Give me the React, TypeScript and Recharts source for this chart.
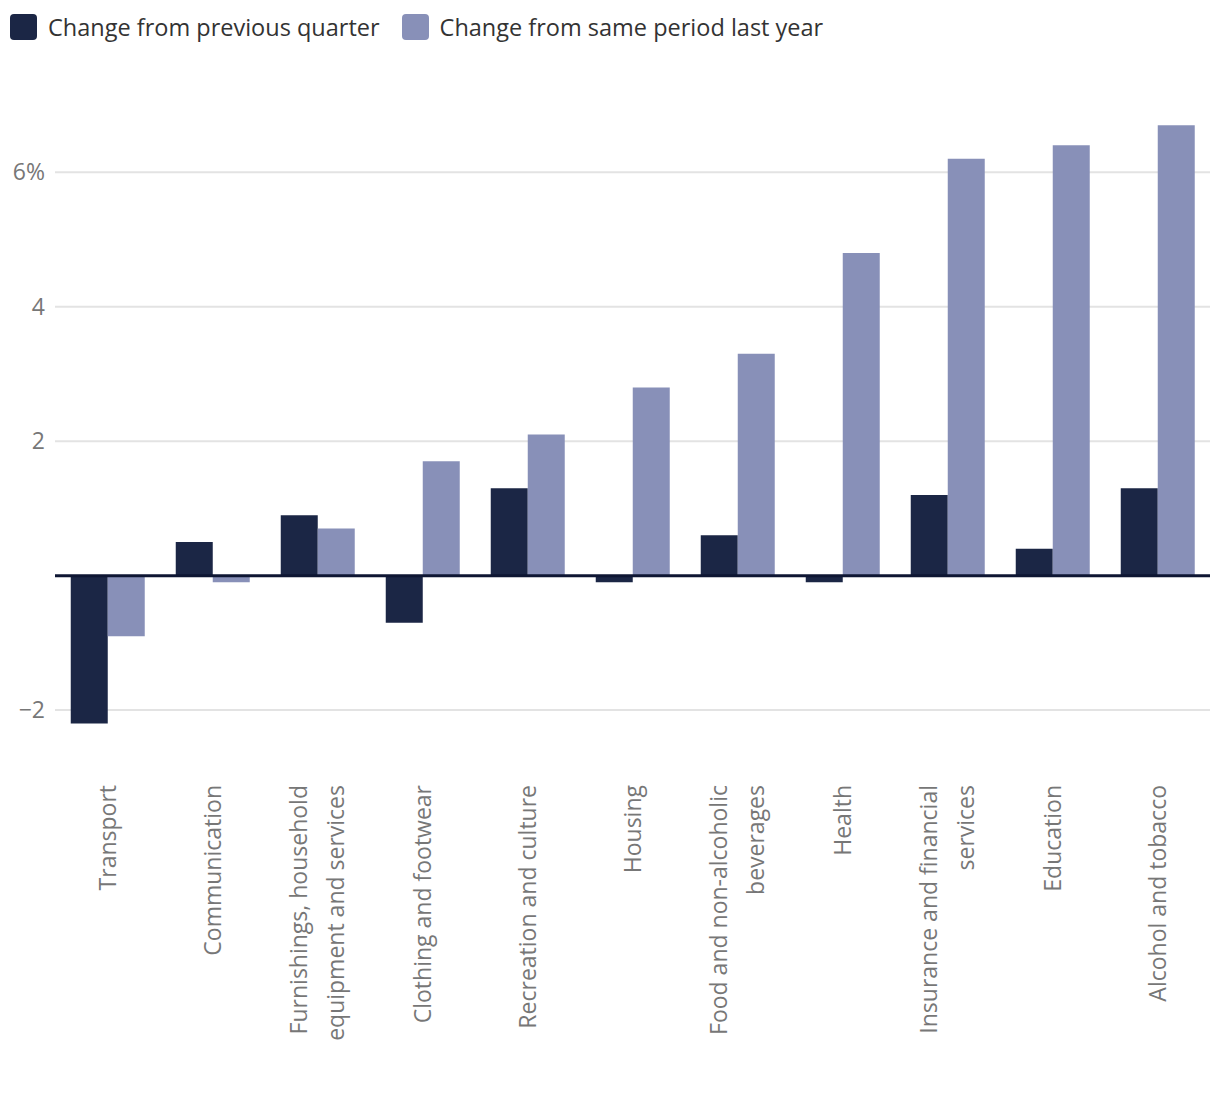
import { BarChart, Bar, XAxis, YAxis, CartesianGrid, ReferenceLine, Legend } from "recharts"

const categories = [
  "Transport",
  "Communication",
  "Furnishings, household equipment and services",
  "Clothing and footwear",
  "Recreation and culture",
  "Housing",
  "Food and non-alcoholic beverages",
  "Health",
  "Insurance and financial services",
  "Education",
  "Alcohol and tobacco",
]

const prevQuarter = [-2.2, 0.5, 0.9, -0.7, 1.3, -0.1, 0.6, -0.1, 1.2, 0.4, 1.3]
const sameLastYear = [-0.9, -0.1, 0.7, 1.7, 2.1, 2.8, 3.3, 4.8, 6.2, 6.4, 6.7]

const yTicks = [-2, 2, 4, 6]

const DARK = "#1b2645"
const LIGHT = "#8890b8"
const FONT = "'Open Sans', sans-serif"

const data = categories.map((name, i) => ({
  name,
  prev: prevQuarter[i],
  year: sameLastYear[i],
}))

// split long labels into lines of max ~23 chars
function wrap(label: string, max = 23) {
  const words = label.split(" ")
  const lines: string[] = []
  let cur = ""
  for (const w of words) {
    const next = cur ? cur + " " + w : w
    if (next.length > max && cur) {
      lines.push(cur)
      cur = w
    } else {
      cur = next
    }
  }
  if (cur) lines.push(cur)
  return lines
}

const CategoryTick = ({ x, y, payload }: any) => {
  const lines = wrap(payload.value)
  const spacing = 37
  const start = -((lines.length - 1) * spacing) / 2 + 8
  return (
    <g transform={`translate(${x},${y + 46})`}>
      <text transform="rotate(-90)" textAnchor="end" fill="#777" fontSize={23} fontFamily={FONT}>
        {lines.map((l, i) => (
          <tspan key={i} x={0} y={start + i * spacing}>
            {l}
          </tspan>
        ))}
      </text>
    </g>
  )
}

const formatY = (v: number) => {
  const s = v < 0 ? "\u2212" + Math.abs(v) : String(v)
  return v === 6 ? s + "%" : s
}

const LegendContent = () => {
  const items = [
    { label: "Change from previous quarter", color: DARK },
    { label: "Change from same period last year", color: LIGHT },
  ]
  return (
    <div style={{ display: "flex", alignItems: "center", height: 54, paddingLeft: 10, fontFamily: FONT }}>
      {items.map((it) => (
        <div key={it.label} style={{ display: "flex", alignItems: "center", marginRight: 22 }}>
          <span
            style={{
              display: "inline-block",
              width: 27,
              height: 26,
              borderRadius: 4,
              background: it.color,
              marginRight: 11,
            }}
          />
          <span style={{ fontSize: 23.5, color: "#333" }}>{it.label}</span>
        </div>
      ))}
    </div>
  )
}

export default function App() {
  return (
    <div style={{ width: 1220, height: 1102, background: "#fff" }}>
      <style>{`body{margin:0}`}</style>
      <BarChart
        width={1220}
        height={1102}
        data={data}
        margin={{ top: 51, right: 10, left: 0, bottom: 65 }}
        barCategoryGap="15%"
        barGap={0}
      >
        <Legend
          verticalAlign="top"
          align="left"
          content={<LegendContent />}
          wrapperStyle={{ top: 0, left: 0, height: 54 }}
        />
        <CartesianGrid vertical={false} horizontalValues={yTicks} stroke="#e3e3e3" strokeWidth={2} />
        <XAxis
          dataKey="name"
          interval={0}
          axisLine={false}
          tickLine={false}
          tickSize={0}
          height={300}
          tick={<CategoryTick />}
        />
        <YAxis
          domain={[-2.4, 7]}
          ticks={yTicks}
          tickFormatter={formatY}
          axisLine={false}
          tickLine={false}
          tickSize={0}
          tickMargin={10}
          width={55}
          tick={{ fill: "#777", fontSize: 23, fontFamily: FONT }}
        />
        <Bar dataKey="prev" fill={DARK} isAnimationActive={false} />
        <Bar dataKey="year" fill={LIGHT} isAnimationActive={false} />
        <ReferenceLine y={0} stroke="#0e1633" strokeWidth={3} />
      </BarChart>
    </div>
  )
}
